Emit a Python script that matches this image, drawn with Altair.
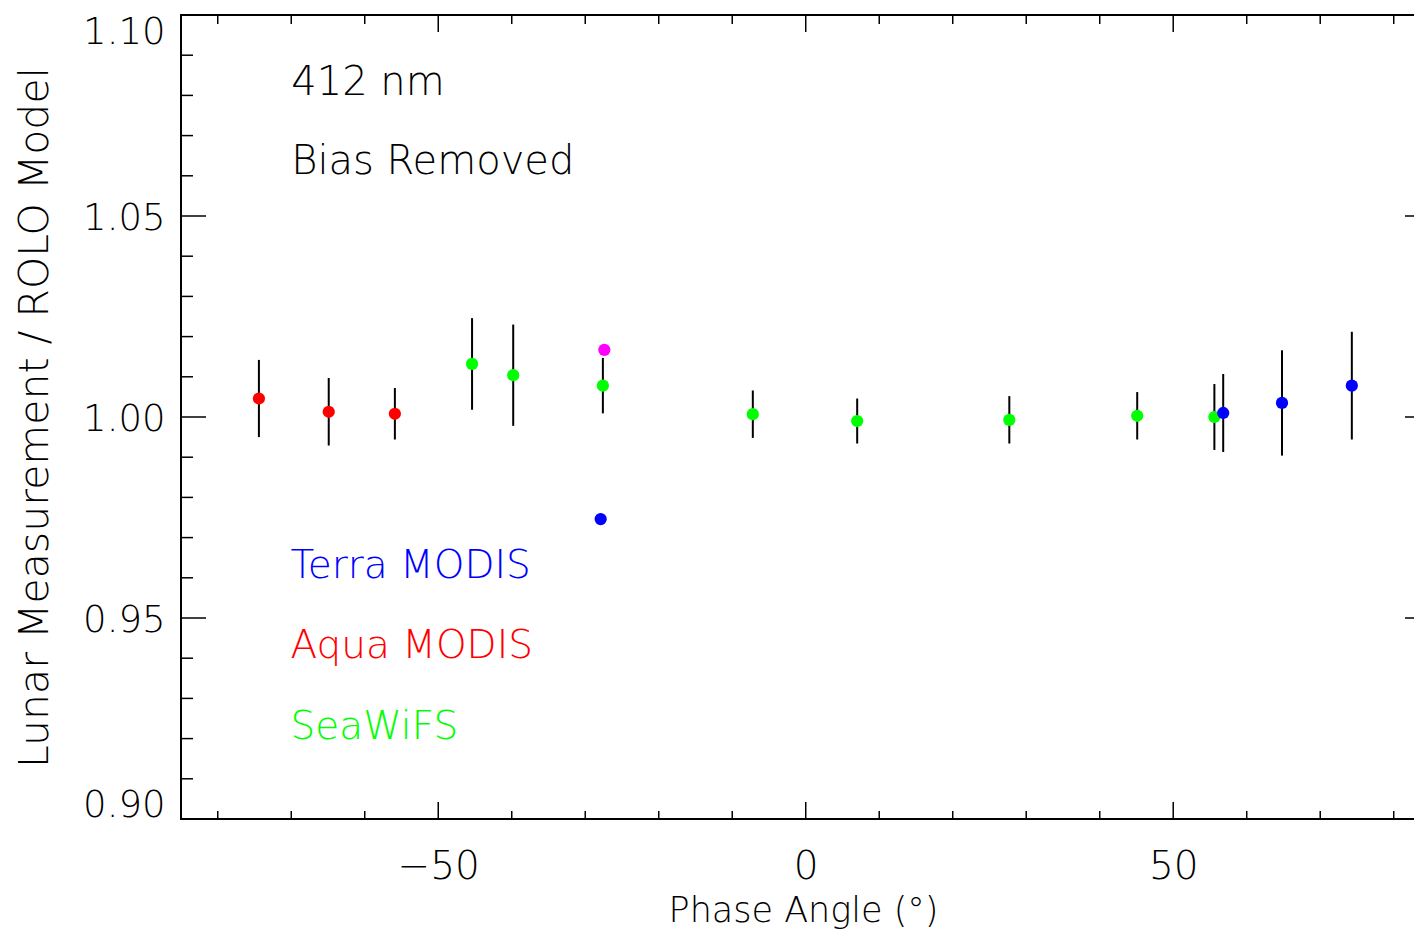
import altair as alt
import pandas as pd

# ---- data ----
aqua_x = [-74.4, -64.9, -55.9]
aqua_y = [1.0046, 1.0013, 1.0008]
aqua_err = [0.0096, 0.0084, 0.0064]

seawifs_x = [-45.4, -39.8, -27.6, -7.2, 7.0, 27.7, 45.1, 55.6]
seawifs_y = [1.0132, 1.0104, 1.0078, 1.0007, 0.9990, 0.9993, 1.0003, 1.0000]
seawifs_err = [0.0114, 0.0126, 0.0069, 0.0059, 0.0056, 0.0059, 0.0059, 0.0082]

terra_x = [-27.9, 56.8, 64.8, 74.3]
terra_y = [0.9746, 1.0010, 1.0035, 1.0078]
terra_err = [0.0, 0.0097, 0.0131, 0.0134]

other_x = [-27.4]
other_y = [1.0167]
other_err = [0.0]

x_major = [-50, 0, 50]
x_minor = [-80, -70, -60, -40, -30, -20, -10, 10, 20, 30, 40, 60, 70, 80]
y_major = [0.90, 0.95, 1.00, 1.05, 1.10]
y_minor = [0.91, 0.92, 0.93, 0.94, 0.96, 0.97, 0.98, 0.99,
           1.01, 1.02, 1.03, 1.04, 1.06, 1.07, 1.08, 1.09]

notes = ["412 nm", "Bias Removed"]
notes_x = [-70.0, -70.0]
notes_y = [1.0832, 1.0634]

legend_names = ["Terra MODIS", "Aqua MODIS", "SeaWiFS"]
legend_x = [-70.1, -70.1, -70.1]
legend_y = [0.9630, 0.9430, 0.9228]

inst_domain = ["Terra MODIS", "Aqua MODIS", "SeaWiFS", "Other"]
inst_colors = ["#0000FF", "#FF0000", "#00FF00", "#FF00FF"]

# ---- build tables ----
rows = []
for name, xs, ys, es in [("Aqua MODIS", aqua_x, aqua_y, aqua_err),
                         ("SeaWiFS", seawifs_x, seawifs_y, seawifs_err),
                         ("Terra MODIS", terra_x, terra_y, terra_err),
                         ("Other", other_x, other_y, other_err)]:
    for x, y, e in zip(xs, ys, es):
        rows.append({"inst": name, "phase": x, "ratio": y,
                     "lo": y - e, "hi": y + e, "has_err": e > 0})
df = pd.DataFrame(rows)

W, H = 1243, 804
FONT = "DejaVu Sans"

xscale = alt.Scale(domain=[-85, 84.12], nice=False, zero=False)
yscale = alt.Scale(domain=[0.90, 1.10], nice=False, zero=False)

xaxis = alt.Axis(title="Phase Angle (°)", values=x_major, format="d",
                 ticks=False, tickSize=0, domain=False, grid=False,
                 labelFontSize=39, labelPadding=28, labelFont=FONT,
                 labelColor="black", labelFontWeight=300,
                 titleFontSize=35, titleFont=FONT, titleColor="black",
                 titleFontWeight=300, titleY=102, titleX=622,
                 titleAlign="center", titleBaseline="alphabetic")
yaxis = alt.Axis(title="Lunar Measurement / ROLO Model", values=y_major,
                 format=".2f", ticks=False, tickSize=0, domain=False,
                 grid=False, labelFontSize=37, labelPadding=16,
                 labelFont=FONT, labelColor="black", labelFontWeight=300,
                 labelFlush=True, labelFlushOffset=3, labelOffset=2,
                 titleFontSize=41, titleFont=FONT, titleColor="black",
                 titleFontWeight=300, titleX=-134, titleY=H / 2,
                 titleAlign="center", titleBaseline="alphabetic",
                 titleAngle=270)

base = alt.Chart(df)

errbars = base.transform_filter("datum.has_err").mark_rule(
    color="black", strokeWidth=2
).encode(
    x=alt.X("phase:Q", scale=xscale, axis=xaxis),
    y=alt.Y("lo:Q", scale=yscale, axis=yaxis),
    y2="hi:Q",
)

points = base.mark_circle(size=150, opacity=1).encode(
    x=alt.X("phase:Q", scale=xscale, axis=xaxis),
    y=alt.Y("ratio:Q", scale=yscale, axis=yaxis),
    color=alt.Color("inst:N", scale=alt.Scale(domain=inst_domain,
                                              range=inst_colors),
                    legend=None),
)

xmaj_df = pd.DataFrame({"v": x_major})
xmin_df = pd.DataFrame({"v": x_minor})
ymaj_df = pd.DataFrame({"v": y_major})
ymin_df = pd.DataFrame({"v": y_minor})


def xticks(d, y0, y1):
    return alt.Chart(d).mark_rule(color="black", strokeWidth=1.5).encode(
        x=alt.X("v:Q", scale=xscale, axis=xaxis),
        y=alt.value(y0), y2=alt.value(y1))


def yticks(d, x0, x1):
    return alt.Chart(d).mark_rule(color="black", strokeWidth=1.5).encode(
        y=alt.Y("v:Q", scale=yscale, axis=yaxis),
        x=alt.value(x0), x2=alt.value(x1))


ticks = [
    xticks(xmaj_df, H, H - 17), xticks(xmin_df, H, H - 8),
    xticks(xmaj_df, 0, 17), xticks(xmin_df, 0, 9),
    yticks(ymaj_df, 0, 25), yticks(ymin_df, 0, 12),
    yticks(ymaj_df, W, W - 19), yticks(ymin_df, W, W - 6),
]

notes_df = pd.DataFrame({"t": notes, "x": notes_x, "y": notes_y})
note_text = alt.Chart(notes_df).mark_text(
    align="left", baseline="middle", fontSize=40, font=FONT,
    fontWeight=300, color="black"
).encode(
    x=alt.X("x:Q", scale=xscale, axis=xaxis),
    y=alt.Y("y:Q", scale=yscale, axis=yaxis),
    text="t:N",
)

leg_df = pd.DataFrame({"t": legend_names, "x": legend_x, "y": legend_y})
leg_text = alt.Chart(leg_df).mark_text(
    align="left", baseline="middle", fontSize=39, font=FONT, fontWeight=300
).encode(
    x=alt.X("x:Q", scale=xscale, axis=xaxis),
    y=alt.Y("y:Q", scale=yscale, axis=yaxis),
    text="t:N",
    color=alt.Color("t:N", scale=alt.Scale(domain=inst_domain,
                                           range=inst_colors),
                    legend=None),
)

chart = alt.layer(errbars, *ticks, points, note_text, leg_text).properties(
    width=W, height=H,
    autosize=alt.AutoSizeParams(type="none"),
    padding={"left": 173, "top": 7, "right": -10, "bottom": 111},
).configure(background="white").configure_view(stroke="black", strokeWidth=2)

chart.save("out.html", embed_options={"renderer": "svg", "actions": False})
